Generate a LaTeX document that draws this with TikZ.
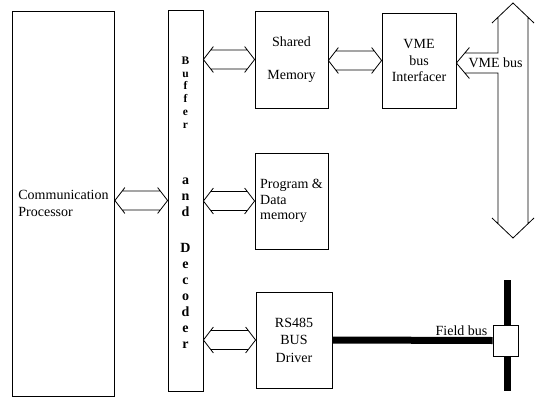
\documentclass[tikz,border=0pt]{standalone}
\usepackage{fontspec}
\setmainfont{Liberation Serif}
\usetikzlibrary{calc}
% hollow double arrow between two blocks, at the height of the second one
\newcommand{\hbus}[2]{%
  \draw[bus] let \p1=(#1.east), \p2=(#2.west) in
    (\x1+10pt,\y2+13pt) -- (\x1,\y2) -- (\x1+10pt,\y2-13pt)
    (\x1+7.3pt,\y2+9.5pt) -- (\x2-7.3pt,\y2+9.5pt)
    (\x1+7.3pt,\y2-9.5pt) -- (\x2-7.3pt,\y2-9.5pt)
    (\x2-10pt,\y2+13pt) -- (\x2,\y2) -- (\x2-10pt,\y2-13pt);}

\begin{document}
\begin{tikzpicture}[x=1pt,y=-1pt,
    every node/.style={font=\fontsize{14}{17}\selectfont},
    box/.style={draw,line width=0.8pt,inner sep=0pt,align=center},
    letters/.style={align=center,inner sep=0pt,font=\bfseries\fontsize{14}{16}\selectfont},
    bus/.style={line width=0.8pt},
    fieldline/.style={line width=7pt}]
    \useasboundingbox (0,0) rectangle (535,396);

    \node[box,align=left,minimum width=102,minimum height=384.5] (comm) at (63.5,203.75) {Communication\\Processor};

    \node[box,minimum width=35,minimum height=381] (buf) at (185.5,200.5) {};
    \node[letters,font=\bfseries\fontsize{11.5}{12.8}\selectfont] (wbuf) at (185.5,92.5) {B\\u\\f\\f\\e\\r};
    \node[letters] (wand) at (185.5,197) {a\\n\\d};
    \node[letters] (wdec) at (185.5,296) {D\\e\\c\\o\\d\\e\\r};

    \node[box,minimum width=73,minimum height=97] (shm) at (291.5,59.5) {Shared\\[16pt]Memory};
    \node[box,minimum width=74,minimum height=95,font=\fontsize{14}{16.5}\selectfont] (vmei) at (419,60.5) {VME\\bus\\Interfacer};
    \node[box,align=left,minimum width=73,minimum height=96,font=\fontsize{14}{15.5}\selectfont] (prog) at (291.5,201) {Program \&\\Data\\memory};
    \node[box,minimum width=76,minimum height=96,font=\fontsize{14}{17.5}\selectfont] (rs) at (294,340) {RS485\\BUS\\Driver};

    \hbus{comm}{buf}
    \hbus{buf}{shm}
    \hbus{shm}{vmei}
    \hbus{buf}{prog}
    \hbus{buf}{rs}

    % VME bus
    \coordinate (vtop) at (513,3);
    \coordinate (vbot) at (513,238);
    \coordinate (vtip) at ([yshift=-2.5pt]vmei.east);
    \draw[bus] let \p1=(vtop), \p2=(vbot), \p3=(vtip) in
      (\x1-21pt,\y1-20pt) -- (\x1,\y1) -- (\x1+21pt,\y1-20pt)
      (\x1+15pt,\y1-14.3pt) -- (\x2+15pt,\y2+14.3pt)
      (\x2-21pt,\y2+20pt) -- (\x2,\y2) -- (\x2+21pt,\y2+20pt)
      (\x1-15pt,\y1-14.3pt) -- (\x1-15pt,\y3+10pt) -- (\x3+8.4pt,\y3+10pt)
      (\x3+13pt,\y3+15.5pt) -- (\x3,\y3) -- (\x3+13pt,\y3-15.5pt)
      (\x3+8.4pt,\y3-10pt) -- (\x1-15pt,\y3-10pt) -- (\x2-15pt,\y2+14.3pt);
    \node[inner sep=0pt,anchor=west] (vlbl) at ([xshift=12pt]vtip) {VME bus};

    % field bus
    \coordinate (ftop) at (507,280);
    \coordinate (fbot) at (507,391);
    \draw[fieldline] (ftop) -- (fbot);
    \node[box,fill=white,minimum width=25,minimum height=31] (junc) at (505.5,340.5) {};
    \draw[fieldline] (rs.east) -- (junc.west);
    \node[inner sep=0pt,anchor=east] (flbl) at ([xshift=-5pt,yshift=9.5pt]junc.west) {Field bus};
\end{tikzpicture}
\end{document}
